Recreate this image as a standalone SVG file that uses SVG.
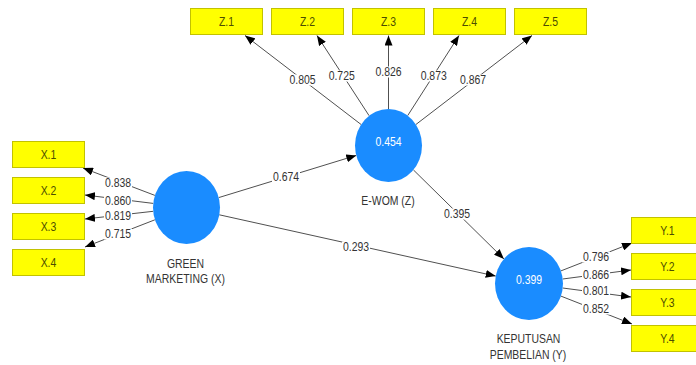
<svg xmlns="http://www.w3.org/2000/svg" width="696" height="365" viewBox="0 0 696 365">
<style>
.box{fill:#ffff00;stroke:#c2c200;stroke-width:1}
.bt{font-family:"Liberation Sans",Arial,sans-serif;font-size:12px;fill:#4d4d00;text-anchor:middle}
.lv{fill:#1a8cff}
.ct{font-family:"Liberation Sans",Arial,sans-serif;font-size:12px;fill:#ffffff;text-anchor:middle}
.nl{font-family:"Liberation Sans",Arial,sans-serif;font-size:12px;fill:#333333;text-anchor:middle}
.ln{stroke:#505050;stroke-width:1;fill:none;marker-end:url(#ah)}
.lb{fill:#ffffff}
.lt{font-family:"Liberation Sans",Arial,sans-serif;font-size:12px;fill:#333333;text-anchor:middle}
</style>
<defs>
<marker id="ah" markerWidth="10" markerHeight="8" refX="10" refY="4" orient="auto" markerUnits="userSpaceOnUse">
<path d="M0,0 L10,4 L0,8 Z" fill="#000000"/>
</marker>
</defs>
<rect width="696" height="365" fill="#ffffff"/>
<g id="connectors">
<line class="ln" x1="154.9" y1="195.4" x2="83" y2="168"/>
<line class="ln" x1="153.2" y1="203.4" x2="85" y2="195"/>
<line class="ln" x1="153.2" y1="211.3" x2="85" y2="219"/>
<line class="ln" x1="154.9" y1="219.8" x2="85" y2="247"/>
<line class="ln" x1="361.1" y1="124.5" x2="245" y2="35.5"/>
<line class="ln" x1="369.1" y1="115.7" x2="317" y2="35.5"/>
<line class="ln" x1="388.5" y1="109" x2="388.5" y2="35.5"/>
<line class="ln" x1="407.7" y1="115.6" x2="459" y2="35.5"/>
<line class="ln" x1="415.9" y1="124.5" x2="532" y2="35.5"/>
<line class="ln" x1="560.9" y1="270.9" x2="632" y2="243"/>
<line class="ln" x1="562.7" y1="279" x2="631" y2="270"/>
<line class="ln" x1="562.7" y1="288" x2="631" y2="297"/>
<line class="ln" x1="560.9" y1="296.1" x2="632" y2="324"/>
<line class="ln" x1="218.7" y1="197.6" x2="356.3" y2="155.4"/>
<line class="ln" x1="219.3" y1="214.8" x2="495.7" y2="276.1"/>
<line class="ln" x1="413.4" y1="169.9" x2="503.9" y2="258.9"/>
<g id="labels">
<rect class="lb" x="104" y="177.5" width="28" height="11"/>
<rect class="lb" x="104" y="195.5" width="28" height="11"/>
<rect class="lb" x="104" y="210.5" width="28" height="11"/>
<rect class="lb" x="104" y="228.5" width="28" height="11"/>
<rect class="lb" x="288.5" y="74.5" width="28" height="11"/>
<rect class="lb" x="327.7" y="70.5" width="28" height="11"/>
<rect class="lb" x="374.5" y="66.5" width="28" height="11"/>
<rect class="lb" x="419.7" y="70.5" width="28" height="11"/>
<rect class="lb" x="459" y="74.5" width="28" height="11"/>
<rect class="lb" x="582" y="251.5" width="28" height="11"/>
<rect class="lb" x="582" y="269.5" width="28" height="11"/>
<rect class="lb" x="582" y="285.5" width="28" height="11"/>
<rect class="lb" x="582" y="303.5" width="28" height="11"/>
<rect class="lb" x="272" y="171.5" width="28" height="11"/>
<rect class="lb" x="342" y="241.5" width="28" height="11"/>
<rect class="lb" x="443" y="208.5" width="28" height="11"/>
<text class="lt" transform="translate(118 187.3) scale(0.87 1)">0.838</text>
<text class="lt" transform="translate(118 205.3) scale(0.87 1)">0.860</text>
<text class="lt" transform="translate(118 220.3) scale(0.87 1)">0.819</text>
<text class="lt" transform="translate(118 238.3) scale(0.87 1)">0.715</text>
<text class="lt" transform="translate(302.5 84.3) scale(0.87 1)">0.805</text>
<text class="lt" transform="translate(341.7 80.3) scale(0.87 1)">0.725</text>
<text class="lt" transform="translate(388.5 76.3) scale(0.87 1)">0.826</text>
<text class="lt" transform="translate(433.7 80.3) scale(0.87 1)">0.873</text>
<text class="lt" transform="translate(473 84.3) scale(0.87 1)">0.867</text>
<text class="lt" transform="translate(596 261.3) scale(0.87 1)">0.796</text>
<text class="lt" transform="translate(596 279.3) scale(0.87 1)">0.866</text>
<text class="lt" transform="translate(596 295.3) scale(0.87 1)">0.801</text>
<text class="lt" transform="translate(596 313.3) scale(0.87 1)">0.852</text>
<text class="lt" transform="translate(286 181.3) scale(0.87 1)">0.674</text>
<text class="lt" transform="translate(356 251.3) scale(0.87 1)">0.293</text>
<text class="lt" transform="translate(457 218.3) scale(0.87 1)">0.395</text>
</g>
</g>
<g id="X1"><rect class="box" x="12.5" y="141.5" width="72" height="26"/><text class="bt" transform="translate(48.5 158.8) scale(0.87 1)">X.1</text></g>
<g id="X2"><rect class="box" x="12.5" y="177.5" width="72" height="26"/><text class="bt" transform="translate(48.5 194.8) scale(0.87 1)">X.2</text></g>
<g id="X3"><rect class="box" x="12.5" y="213.5" width="72" height="26"/><text class="bt" transform="translate(48.5 230.8) scale(0.87 1)">X.3</text></g>
<g id="X4"><rect class="box" x="12.5" y="249.5" width="72" height="26"/><text class="bt" transform="translate(48.5 266.8) scale(0.87 1)">X.4</text></g>
<g id="Z1"><rect class="box" x="190.5" y="8.5" width="72" height="26"/><text class="bt" transform="translate(226.5 25.8) scale(0.87 1)">Z.1</text></g>
<g id="Z2"><rect class="box" x="271.5" y="8.5" width="72" height="26"/><text class="bt" transform="translate(307.5 25.8) scale(0.87 1)">Z.2</text></g>
<g id="Z3"><rect class="box" x="352.5" y="8.5" width="72" height="26"/><text class="bt" transform="translate(388.5 25.8) scale(0.87 1)">Z.3</text></g>
<g id="Z4"><rect class="box" x="433.5" y="8.5" width="72" height="26"/><text class="bt" transform="translate(469.5 25.8) scale(0.87 1)">Z.4</text></g>
<g id="Z5"><rect class="box" x="514.5" y="8.5" width="72" height="26"/><text class="bt" transform="translate(550.5 25.8) scale(0.87 1)">Z.5</text></g>
<g id="Y1"><rect class="box" x="631.5" y="217.5" width="72" height="26"/><text class="bt" transform="translate(667.5 234.8) scale(0.87 1)">Y.1</text></g>
<g id="Y2"><rect class="box" x="631.5" y="253.5" width="72" height="26"/><text class="bt" transform="translate(667.5 270.8) scale(0.87 1)">Y.2</text></g>
<g id="Y3"><rect class="box" x="631.5" y="289.5" width="72" height="26"/><text class="bt" transform="translate(667.5 306.8) scale(0.87 1)">Y.3</text></g>
<g id="Y4"><rect class="box" x="631.5" y="325.5" width="72" height="26"/><text class="bt" transform="translate(667.5 342.8) scale(0.87 1)">Y.4</text></g>
<g id="GreenMarketing">
<ellipse class="lv" cx="186.5" cy="207.5" rx="33.5" ry="36.5"/>
<text class="nl" transform="translate(185.5 268) scale(0.87 1)">GREEN</text>
<text class="nl" transform="translate(185.5 282.5) scale(0.87 1)">MARKETING (X)</text>
</g>
<g id="EWOM">
<ellipse class="lv" cx="388.5" cy="145.5" rx="33.5" ry="36.5"/>
<text class="ct" transform="translate(388.5 146.2) scale(0.87 1)">0.454</text>
<text class="nl" transform="translate(388 205) scale(0.87 1)">E-WOM (Z)</text>
</g>
<g id="KeputusanPembelian">
<ellipse class="lv" cx="529" cy="283.5" rx="34" ry="36.5"/>
<text class="ct" transform="translate(529 283.7) scale(0.87 1)">0.399</text>
<text class="nl" transform="translate(528.5 343) scale(0.87 1)">KEPUTUSAN</text>
<text class="nl" transform="translate(528 358.5) scale(0.87 1)">PEMBELIAN (Y)</text>
</g>
</svg>
